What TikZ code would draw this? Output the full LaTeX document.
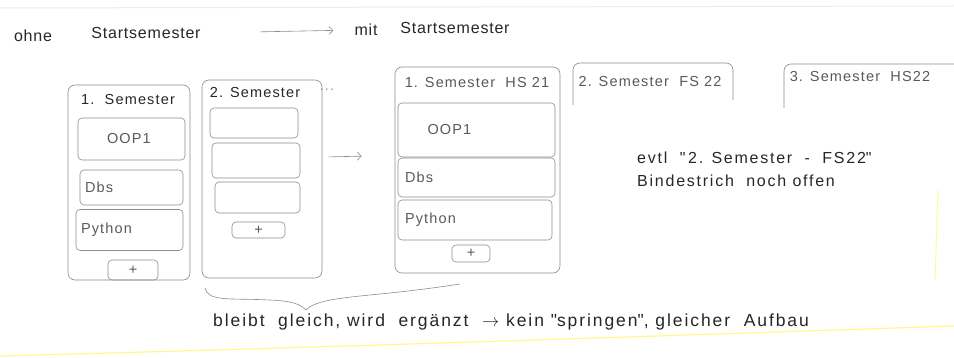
\documentclass[tikz,border=0pt]{standalone}
\usepackage{fontspec}
\setmainfont{Liberation Sans}
\newfontfamily\handtop[LetterSpace=5]{Liberation Sans}
\newfontfamily\handcard[LetterSpace=8]{Liberation Sans}
\newfontfamily\handnote[LetterSpace=11]{Liberation Sans}
\usetikzlibrary{arrows.meta}
\begin{document}
\begin{tikzpicture}[x=1pt,y=-1pt,>={Straight Barb[length=4pt]}]
\tikzset{pencil/.style={draw=black!45,line width=.6pt},
  card/.style={pencil,rounded corners=7pt,inner sep=0pt},
  field/.style={pencil,rounded corners=4pt,inner sep=0pt},
  hand/.style={font=\handtop\fontsize{16}{19}\selectfont,text=black!85,inner sep=1pt},
  note/.style={font=\handnote\fontsize{16}{23}\selectfont,text=black!85,inner sep=1pt},
  lab/.style={font=\handcard\fontsize{14.5}{16}\selectfont,text=black!65,inner sep=0pt}}
\useasboundingbox (0,0) rectangle (954,358);
\draw[black!8,line width=1pt] (0,8) -- (954,6);
\draw[yellow!45,line width=1.2pt] (0,356) .. controls (300,348) and (600,338) .. (954,326);
\draw[yellow!40,line width=1pt] (938,190) -- (935,280);
% top line
\node[hand] (ohne) at (33,36) {ohne};
\node[hand] (st1) at (146,33) {Startsemester};
\node[hand] (mit) at (366,30) {mit};
\node[hand] (st2) at (455,28) {Startsemester};
\draw[pencil,->,shorten <=58pt,shorten >=20pt] (st1.east) -- (mit.west);
% without start semester
\node[card,minimum width=122,minimum height=195] (l1) at (129,182.5) {};
\node[lab,text=black!85] (l1t) at (128,100) {1.\ \ Semester};
\node[field,lab,minimum width=107,minimum height=42] (l1a) at (131.5,139) {OOP1\ \ };
\node[field,lab,minimum width=103,minimum height=35,text width=93pt,align=left] (l1b) at (131.5,187.5) {Dbs};
\node[field,lab,minimum width=107,minimum height=41,text width=97pt,align=left] (l1c) at (129.5,230) {Python};
\node[field,lab,minimum width=50,minimum height=20] (l1p) at (133,270) {+};
\node[card,minimum width=120,minimum height=198] (l2) at (262,179) {};
\node[lab,text=black!85] (l2t) at (255,93) {2. Semester};
\node[lab,text=black!40] (dots) at (327,90) {...};
\node[field,minimum width=88,minimum height=30] (l2a) at (254,123) {};
\node[field,minimum width=88,minimum height=35] (l2b) at (256,160.5) {};
\node[field,minimum width=85,minimum height=31] (l2c) at (257.5,197.5) {};
\node[field,lab,minimum width=53,minimum height=16] (l2p) at (258.5,230) {+};
% with start semester
\node[card,minimum width=165,minimum height=206] (r1) at (477.5,170) {};
\node[lab] (r1t) at (477,83) {1. Semester\ \ HS 21};
\node[field,lab,minimum width=157,minimum height=54,text width=127pt,align=left] (r1a) at (476.5,130) {\ \ \ OOP1};
\node[field,lab,minimum width=157,minimum height=39,text width=143pt,align=left] (r1b) at (476.5,177.5) {Dbs};
\node[field,lab,minimum width=154,minimum height=40,text width=140pt,align=left] (r1c) at (475,220) {Python};
\node[field,lab,minimum width=38,minimum height=17] (r1p) at (471,253.5) {+};
\draw[pencil,->,shorten <=6pt,shorten >=33pt] (l2.20) -- (r1.170);
\draw[pencil,rounded corners=7pt] (573,105) |- (733,63) -- (733,100);
\node[lab] (r2t) at (650,82) {2. Semester\ \ FS 22};
\draw[pencil,rounded corners=7pt] (784,108) |- (954,64);
\node[lab] (r3t) at (860,77) {3. Semester\ \ HS22};
\node[note,align=left,anchor=west] (evtl) at (636,169) {evtl\ \ \textquotedbl\,2. Semester\ \ -\ \ FS22\textquotedbl\\Bindestrich\ \ noch offen};
% brace and remark
\draw[pencil] (205,288) .. controls (208,302) and (230,298) .. (270,300)
  .. controls (292,301) and (300,304) .. (306,310)
  .. controls (316,300) and (340,298) .. (380,294) .. controls (420,290) and (440,287) .. (460,284);
\node[note,font=\handnote\fontsize{17.5}{20}\selectfont,anchor=west] (rem) at (212,322) {bleibt\ \ gleich, wird\ \ ergänzt\ \ $\rightarrow$ kein \textquotedbl springen\textquotedbl, gleicher\ \ Aufbau};
\end{tikzpicture}
\end{document}
